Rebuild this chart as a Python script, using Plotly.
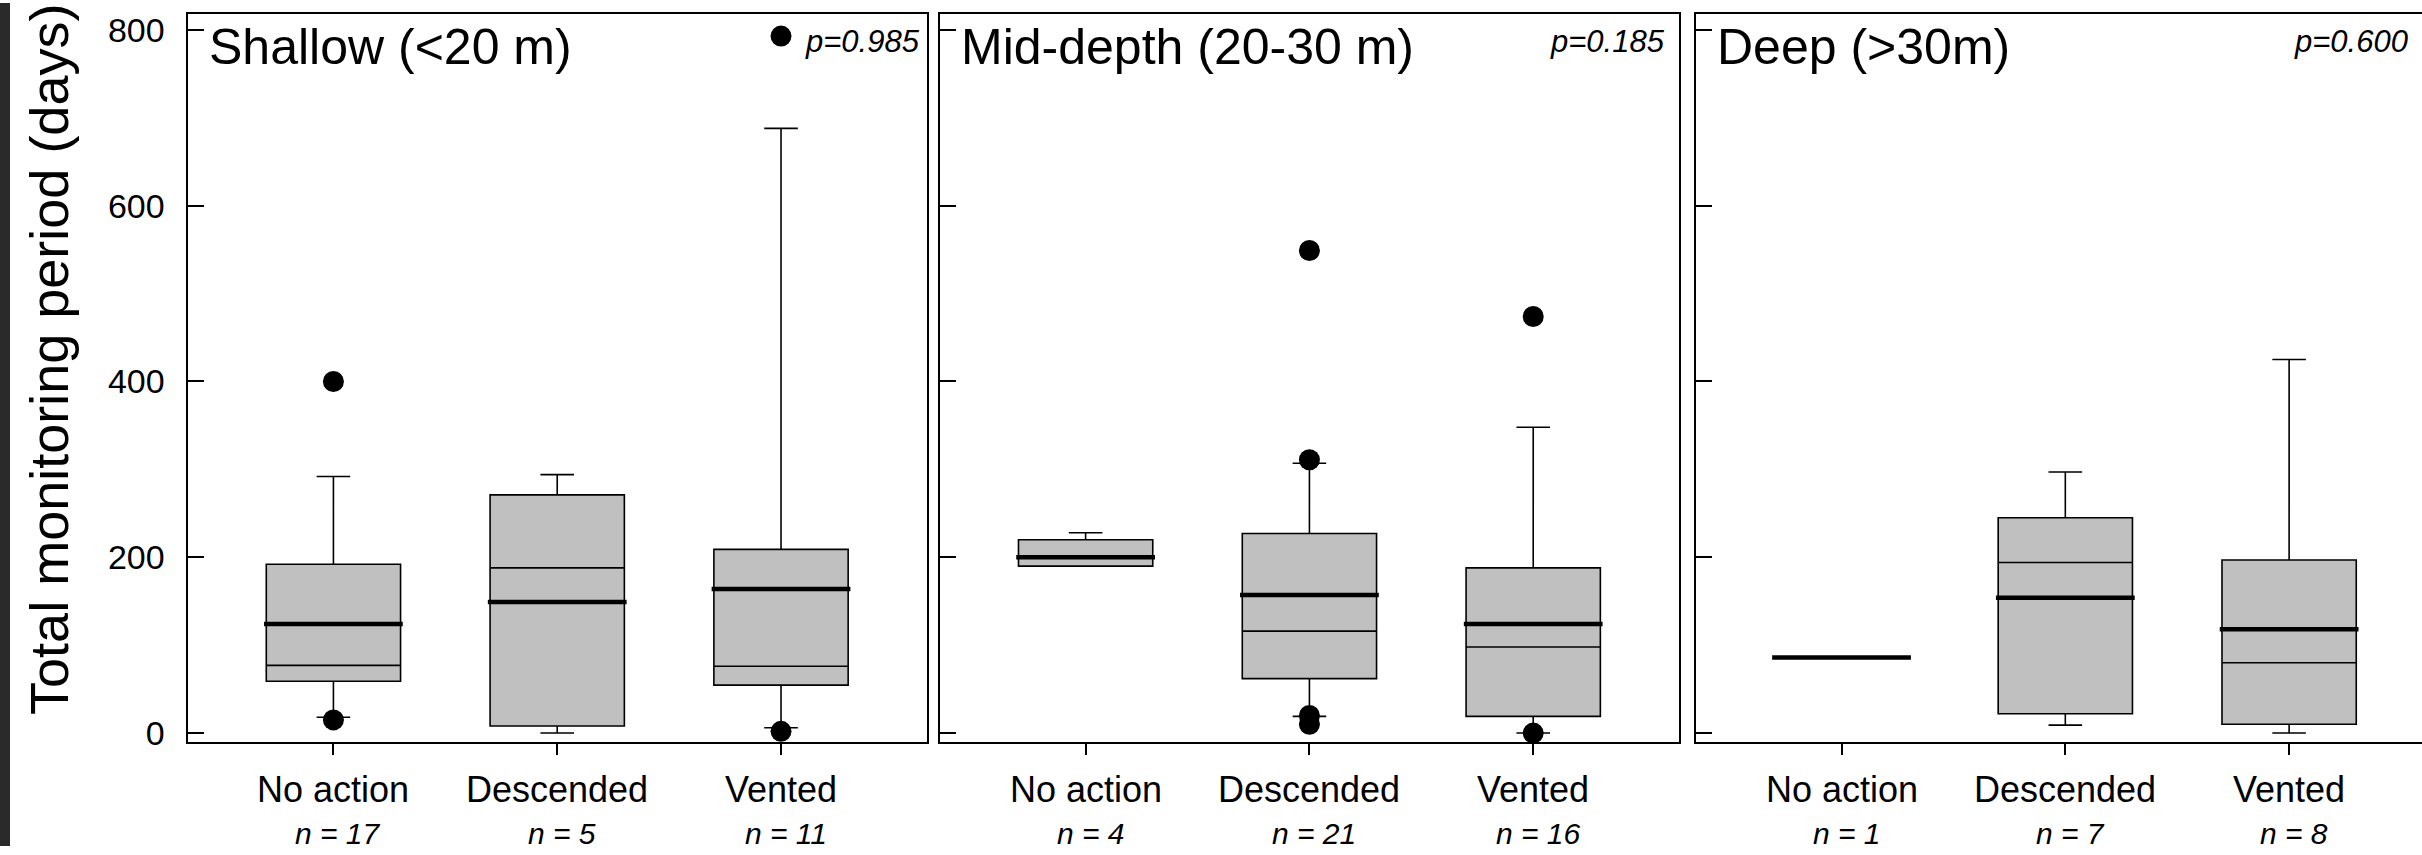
import plotly.graph_objects as go

# ---- data -------------------------------------------------------------
categories = ["No action", "Descended", "Vented"]
panel_titles = ["Shallow (<20 m)", "Mid-depth (20-30 m)", "Deep (>30m)"]
p_values = ["p=0.985", "p=0.185", "p=0.600"]
n_counts = [[17, 5, 11], [4, 21, 16], [1, 7, 8]]

q1 = [[59, 8, 54.5], [190, 62, 19], [86, 22, 10]]
median = [[77, 188, 76], [200, 116, 98], [86, 194, 80]]
q3 = [[192, 271, 209], [220, 227, 188], [86, 245, 197]]
lower_whisker = [[18, 0, 6], [190, 19, 0], [86, 9, 0]]
upper_whisker = [[292, 294, 688], [228, 307, 348], [86, 297, 425]]
means = [[124, 149, 164], [200, 157, 124], [86, 154, 118]]
outliers = [
    [[400, 15], [], [793, 2]],
    [[], [549, 311, 20, 10], [474, 0]],
    [[], [], []],
]
y_ticks = [0, 200, 400, 600, 800]

# ---- layout geometry (pixels) ----------------------------------------
W, H = 2422, 855
FONT = "Liberation Sans, Arial, sans-serif"
panel_px = [(187.5, 926.5), (939.7, 1679.0), (1695.6, 2422.0)]
px_per_cat = 223.8
x_left = -0.652
plot_top_px, plot_bottom_px = 11.0, 750.0
y_range = [-10.7, 818.3]
box_w = 0.6


def py(px):
    """pixel offset from the top edge -> paper fraction"""
    return 1 - px / H


fig = go.Figure()

for p in range(3):
    xa = "x" if p == 0 else f"x{p + 1}"
    ya = "y" if p == 0 else f"y{p + 1}"
    for i in range(3):
        fig.add_trace(go.Box(
            x=[i], q1=[q1[p][i]], median=[median[p][i]], q3=[q3[p][i]],
            lowerfence=[lower_whisker[p][i]], upperfence=[upper_whisker[p][i]],
            width=box_w, whiskerwidth=0.25, boxpoints=False,
            fillcolor="#c0c0c0", line=dict(color="black", width=1.6),
            showlegend=False, hoverinfo="skip", xaxis=xa, yaxis=ya,
        ))
        # mean drawn as a heavy bar across the box
        half = box_w / 2 + 0.01
        fig.add_trace(go.Scatter(
            x=[i - half, i + half], y=[means[p][i], means[p][i]],
            mode="lines", line=dict(color="black", width=4.5),
            showlegend=False, hoverinfo="skip", xaxis=xa, yaxis=ya,
        ))
        if outliers[p][i]:
            fig.add_trace(go.Scatter(
                x=[i] * len(outliers[p][i]), y=outliers[p][i], mode="markers",
                marker=dict(color="black", size=21, line=dict(width=0)),
                cliponaxis=False, showlegend=False, hoverinfo="skip",
                xaxis=xa, yaxis=ya,
            ))

layout = dict(
    width=W, height=H, margin=dict(l=0, r=0, t=0, b=0),
    paper_bgcolor="white", plot_bgcolor="white",
    font=dict(family=FONT, color="black"),
    showlegend=False, boxmode="overlay",
)
y_dom = [py(plot_bottom_px), py(plot_top_px)]

for p in range(3):
    x0, x1 = panel_px[p]
    xname = "xaxis" if p == 0 else f"xaxis{p + 1}"
    yname = "yaxis" if p == 0 else f"yaxis{p + 1}"
    anchor_x = "x" if p == 0 else f"x{p + 1}"
    anchor_y = "y" if p == 0 else f"y{p + 1}"
    layout[xname] = dict(
        domain=[x0 / W, x1 / W], anchor=anchor_y,
        range=[x_left, x_left + (x1 - x0) / px_per_cat],
        tickvals=[0, 1, 2], ticktext=["", "", ""],
        ticks="outside", ticklen=11, tickwidth=1.6, tickcolor="black",
        showline=True, linecolor="black", linewidth=2, mirror=True,
        showgrid=False, zeroline=False, fixedrange=True,
    )
    layout[yname] = dict(
        domain=y_dom, anchor=anchor_x, range=y_range,
        tickvals=y_ticks,
        ticktext=[str(v) for v in y_ticks] if p == 0 else [""] * len(y_ticks),
        ticks="inside", ticklen=16, tickwidth=1.6, tickcolor="black",
        tickfont=dict(size=34, family=FONT, color="black"),
        ticklabelstandoff=14,
        showline=True, linecolor="black", linewidth=2,
        mirror=(p < 2),
        showgrid=False, zeroline=False, fixedrange=True,
    )

fig.update_layout(**layout)

annotations = []
p_right_px = [922, 1667, 2410]
for p in range(3):
    x0, x1 = panel_px[p]
    xref = "x" if p == 0 else f"x{p + 1}"
    annotations.append(dict(
        text=panel_titles[p], xref="paper", yref="paper",
        x=(x0 + 19) / W, y=py(45), xanchor="left", yanchor="middle",
        showarrow=False, font=dict(size=50, family=FONT, color="black"),
    ))
    annotations.append(dict(
        text=f"<i>{p_values[p]}</i>", xref="paper", yref="paper",
        x=p_right_px[p] / W, y=py(39), xanchor="right", yanchor="middle",
        showarrow=False, font=dict(size=31, family=FONT, color="black"),
    ))
    for i, cat in enumerate(categories):
        annotations.append(dict(
            text=cat, xref=xref, yref="paper", x=i, y=py(798),
            xanchor="center", yanchor="middle", showarrow=False,
            font=dict(size=36, family=FONT, color="black"),
        ))
        annotations.append(dict(
            text=f"<i>n = {n_counts[p][i]}</i>", xref=xref, yref="paper",
            x=i, y=py(842), xanchor="center", yanchor="middle",
            xshift=5, showarrow=False,
            font=dict(size=30, family=FONT, color="black"),
        ))

annotations.append(dict(
    text="Total monitoring period (days)", xref="paper", yref="paper",
    x=49 / W, y=py(362), xanchor="center", yanchor="middle",
    textangle=-90, showarrow=False,
    font=dict(size=54, family=FONT, color="black"),
))
fig.update_layout(annotations=annotations)

# dark edge strip along the left side of the canvas
fig.add_shape(type="rect", xref="paper", yref="paper", x0=0, x1=10 / W,
              y0=0, y1=1, fillcolor="#2a2a2a", line=dict(width=0), layer="above")

fig.write_html("out.html")
